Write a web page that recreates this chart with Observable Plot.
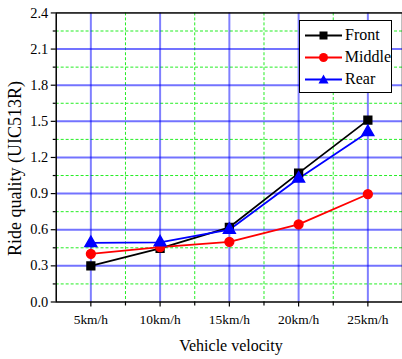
<!DOCTYPE html>
<html><head><meta charset="utf-8">
<script src="https://cdn.jsdelivr.net/npm/d3@7"></script>
<script src="https://cdn.jsdelivr.net/npm/@observablehq/plot@0.6"></script>
<style>
html,body{margin:0;padding:0;background:#fff;overflow:hidden;}
#wrap{position:relative;width:402px;height:359px;overflow:hidden;}
#wrap > svg{position:absolute;left:0;top:0;}
svg text, #legend, #legend span{font-family:"Liberation Serif","Times New Roman",serif !important;}
#legend{position:absolute;left:299px;top:20px;width:91px;height:68px;border:1.5px solid #000;background:#fff;padding-top:3px;box-sizing:content-box;font-size:16px;color:#000;}
.row{display:flex;align-items:center;height:22px;}
.row svg{margin-left:5px;margin-right:3px;}
#titles{pointer-events:none;}
</style></head>
<body><div id="wrap"></div>
<script>
const speeds = [5, 10, 15, 20, 25];
const speedLabels = ["5km/h", "10km/h", "15km/h", "20km/h", "25km/h"];
const seriesNames = ["Front", "Middle", "Rear"];
const seriesColors = ["#000000", "#ff0000", "#0000ff"];
const seriesSymbols = ["square", "circle", "triangle"];
const front = [0.30, 0.445, 0.62, 1.07, 1.51];
const middle = [0.40, 0.455, 0.50, 0.645, 0.895];
const rear = [0.49, 0.495, 0.60, 1.025, 1.41];
const yMajor = [0.0, 0.3, 0.6, 0.9, 1.2, 1.5, 1.8, 2.1, 2.4];
const yMinor = [0.15, 0.45, 0.75, 1.05, 1.35, 1.65, 1.95, 2.25];
const xMinor = [7.5, 12.5, 17.5, 22.5];
const yTitle = "Ride quality (UIC513R)";
const xTitle = "Vehicle velocity";

const values = [front, middle, rear];
const table = [];
seriesNames.forEach((s, i) => speeds.forEach((v, j) => table.push({series: s, speed: v, value: values[i][j]})));

const FF = "Liberation Serif, Times New Roman, serif";
const chart = Plot.plot({
  width: 404, height: 359,
  marginLeft: 56, marginRight: 0, marginTop: 12.5, marginBottom: 56,
  style: {fontFamily: FF, fontSize: "14px", color: "#000", background: "#fff"},
  x: {domain: [2.5, 27.5], label: null},
  y: {domain: [0, 2.4], label: null},
  color: {domain: seriesNames, range: seriesColors},
  symbol: {domain: seriesNames, range: seriesSymbols},
  marks: [
    Plot.ruleY(yMinor, {stroke: "#22ee22", strokeDasharray: "3,2", strokeWidth: 1}),
    Plot.ruleX(xMinor, {stroke: "#22ee22", strokeDasharray: "3,2", strokeWidth: 1}),
    Plot.ruleY(yMajor.slice(1, -1), {stroke: "#0000ff", strokeOpacity: 0.55, strokeWidth: 2}),
    Plot.ruleX(speeds, {stroke: "#0000ff", strokeOpacity: 0.5, strokeWidth: 2}),
    Plot.axisY({ticks: yMajor, tickSize: 5, tickPadding: 3, tickFormat: d => d.toFixed(1), label: null, strokeWidth: 1.2, fontFamily: FF, fontSize: 14.5}),
    Plot.axisY({ticks: yMinor, tickSize: 3, tickFormat: () => "", label: null, strokeWidth: 1.2}),
    Plot.axisX({ticks: speeds, tickSize: 5, tickPadding: 7.5, tickFormat: d => speedLabels[speeds.indexOf(d)], label: null, strokeWidth: 1.2, fontFamily: FF, fontSize: 13.5}),
    Plot.axisX({ticks: xMinor, tickSize: 4, tickFormat: () => "", label: null, strokeWidth: 1.2}),
    Plot.frame({stroke: "#000", strokeWidth: 1.5}),
    Plot.line(table, {x: "speed", y: "value", z: "series", stroke: "series", strokeWidth: 1.8}),
    Plot.dot(table, {x: "speed", y: "value", fill: "series", stroke: "series", symbol: "series", r: 4.4})
  ]
});
const wrap = document.getElementById("wrap");
wrap.appendChild(chart);

// axis titles as an overlay
const ns = "http://www.w3.org/2000/svg";
const titles = document.createElementNS(ns, "svg");
titles.setAttribute("id", "titles");
titles.setAttribute("width", 402);
titles.setAttribute("height", 359);
titles.innerHTML = `<text transform="translate(21,168.5) rotate(-90)" text-anchor="middle" font-size="18" fill="#000">${yTitle}</text>
<text x="231" y="351" text-anchor="middle" font-size="16" fill="#000">${xTitle}</text>`;
wrap.appendChild(titles);

const legend = document.createElement("div");
legend.id = "legend";
const sym = {square: '<rect x="14.5" y="2.5" width="8" height="8"/>', circle: '<circle cx="18.5" cy="6.5" r="4.5"/>', triangle: '<path d="M18.5 1.5 L23.5 10.5 L13.5 10.5 Z"/>'};
seriesNames.forEach((s, i) => {
  const row = document.createElement("div");
  row.className = "row";
  row.innerHTML = `<svg width="37" height="13"><line x1="0" x2="37" y1="6.5" y2="6.5" stroke="${seriesColors[i]}" stroke-width="2"/><g fill="${seriesColors[i]}">${sym[seriesSymbols[i]]}</g></svg><span>${s}</span>`;
  legend.appendChild(row);
});
wrap.appendChild(legend);
</script></body></html>
